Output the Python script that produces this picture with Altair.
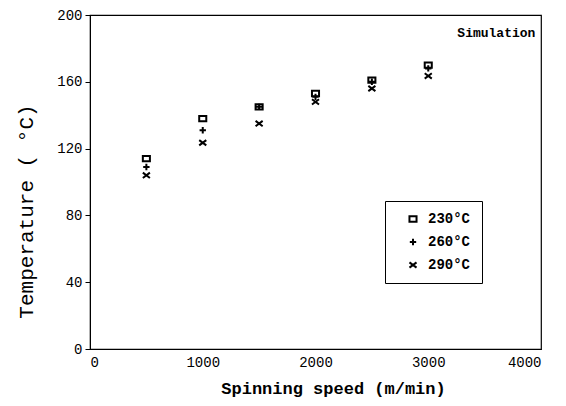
import altair as alt
import pandas as pd

speeds = [500, 1000, 1500, 2000, 2500, 3000]
t230 = [114, 138, 145, 153, 161, 170]
t260 = [109, 131, 145, 151, 160, 168]
t290 = [104, 123.5, 135, 148, 156, 163.5]
series = ["230°C", "260°C", "290°C"]

rows = []
for name, vals in zip(series, [t230, t260, t290]):
    for s, v in zip(speeds, vals):
        rows.append({"speed": s, "temp": v, "series": name})
df = pd.DataFrame(rows)

note_df = pd.DataFrame({"x": [3950], "y": [187], "label": ["Simulation"]})

FONT = "Liberation Mono"
sq = "M-1,-0.75L1,-0.75L1,0.75L-1,0.75Z"
plus = "M-0.9,0L0.9,0M0,-0.9L0,0.9"
cross = "M-1,-0.75L1,0.75M-1,0.75L1,-0.75"

xs = alt.Scale(domain=[0, 4000], nice=False)
ys = alt.Scale(domain=[0, 200], nice=False)

points = alt.Chart(df).mark_point(filled=False, strokeWidth=2, size=50, opacity=1).encode(
    x=alt.X("speed:Q", scale=xs,
            axis=alt.Axis(values=[0, 1000, 2000, 3000, 4000], format="d",
                          title="Spinning speed (m/min)",
                          ticks=False, labelPadding=6, titleX=243, titleY=44,
                          titleBaseline="alphabetic")),
    y=alt.Y("temp:Q", scale=ys,
            axis=alt.Axis(values=[0, 40, 80, 120, 160, 200], format="d",
                          title="Temperature ( °C)",
                          tickSize=5, labelPadding=3, titleX=-64, titleY=196,
                          titleAngle=-90, titleAlign="center", titleBaseline="middle")),
    shape=alt.Shape("series:N", scale=alt.Scale(domain=series, range=[sq, plus, cross]),
                    legend=alt.Legend(title=None, orient="none", legendX=295, legendY=186,
                                      strokeColor="black", padding=11, symbolOffset=10,
                                      rowPadding=8, labelOffset=8, symbolSize=50,
                                      symbolStrokeWidth=2, symbolStrokeColor="black",
                                      labelFont=FONT, labelFontSize=14, labelFontWeight="bold",
                                      labelColor="black")),
    color=alt.value("black"),
)

note = alt.Chart(note_df).mark_text(align="right", baseline="alphabetic", font=FONT,
                                    fontSize=13, fontWeight="bold", color="black").encode(
    x=alt.X("x:Q", scale=xs), y=alt.Y("y:Q", scale=ys), text="label:N")

chart = alt.layer(points, note).properties(
    width=451, height=334,
    autosize=alt.AutoSizeParams(type="none"),
    padding={"left": 90, "top": 15, "right": 25, "bottom": 57},
).configure_view(stroke="black", strokeWidth=1.2).configure_axis(
    domainColor="black", tickColor="black", labelColor="black", titleColor="black",
    labelFont=FONT, labelFontSize=14, titleFont=FONT, grid=False,
).configure_axisX(titleFontSize=17, titleFontWeight="bold").configure_axisY(
    titleFontSize=21, titleFontWeight="normal")

chart.save("out.html", embed_options={"renderer": "svg", "actions": False})
